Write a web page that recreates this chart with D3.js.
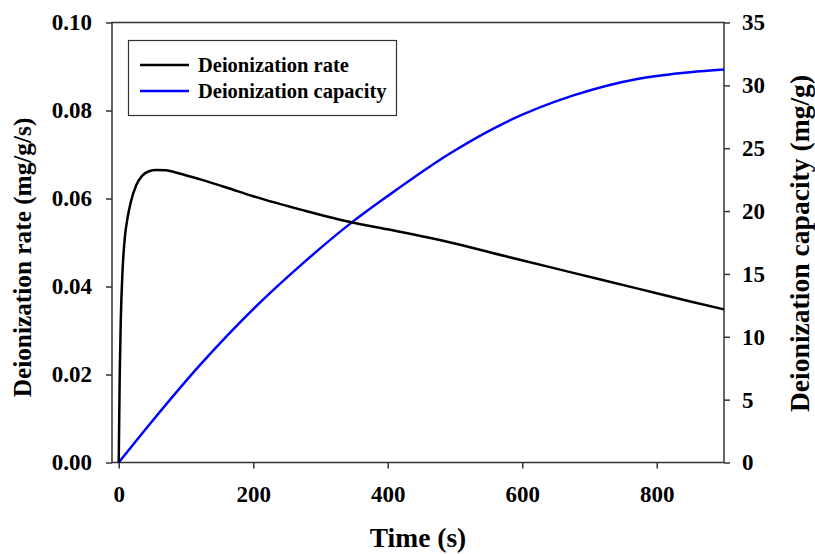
<!DOCTYPE html>
<html>
<head>
<meta charset="utf-8">
<script src="https://cdn.jsdelivr.net/npm/d3@7"></script>
<style>
  html, body { margin: 0; padding: 0; background: #fff; }
  svg { display: block; }
  text { font-family: "Liberation Serif", "Times New Roman", serif; font-weight: bold; fill: #000; }
</style>
</head>
<body>
<svg id="chart" width="815" height="554"></svg>
<script>
// ---- data ----
const rateTime = [0, 1.5, 3, 5.5, 9, 13, 18, 26, 35, 45, 56, 70, 90, 120, 160, 200, 275, 349, 400, 493, 577, 676, 775, 850, 900];
const rateValues = [0, 0.0200, 0.0320, 0.0430, 0.0510, 0.0555, 0.0592, 0.0630, 0.0652, 0.0662, 0.0665, 0.0664, 0.0657, 0.0644, 0.0625, 0.0605, 0.0573, 0.0545, 0.0530, 0.0500, 0.0468, 0.0431, 0.0394, 0.0366, 0.0348];
const capTime = [0, 50, 120, 200, 275, 349, 400, 493, 577, 676, 775, 850, 900];
const capValues = [0, 3.3, 7.7, 12.2, 15.9, 19.2, 21.2, 24.6, 27.1, 29.2, 30.55, 31.05, 31.26];
const xTicks = [0, 200, 400, 600, 800];
const yLeftTicks = [0, 0.02, 0.04, 0.06, 0.08, 0.10];
const yRightTicks = [0, 5, 10, 15, 20, 25, 30, 35];
const seriesNames = ["Deionization rate", "Deionization capacity"];
const seriesColors = ["#000000", "#0000ff"];

// ---- layout ----
const L = 112, R = 724, T = 22.5, B = 462.5;
const svg = d3.select("#chart");
const x = d3.scaleLinear().domain([-10, 900]).range([L, R]);
const yL = d3.scaleLinear().domain([0, 0.1]).range([B, T]);
const yR = d3.scaleLinear().domain([0, 35]).range([B, T]);

const axisColor = "#333";
svg.append("rect").attr("x", L).attr("y", T).attr("width", R - L).attr("height", B - T)
  .attr("fill", "none").attr("stroke", axisColor).attr("stroke-width", 1.5);

function styleAxis(g) {
  g.select(".domain").remove();
  g.selectAll(".tick line").attr("stroke", axisColor).attr("stroke-width", 1.5);
  g.selectAll(".tick text").style("font-family", '"Liberation Serif", serif').style("font-weight", "bold").style("font-size", "23px").attr("fill", "#000");
}

svg.append("g").attr("transform", `translate(0,${B})`)
  .call(d3.axisBottom(x).tickValues(xTicks).tickSize(6).tickPadding(17).tickFormat(d3.format("d")))
  .call(styleAxis);
svg.append("g").attr("transform", `translate(${L},0)`)
  .call(d3.axisLeft(yL).tickValues(yLeftTicks).tickSize(6).tickPadding(14).tickFormat(d3.format(".2f")))
  .call(styleAxis);
svg.append("g").attr("transform", `translate(${R},0)`)
  .call(d3.axisRight(yR).tickValues(yRightTicks).tickSize(6).tickPadding(12).tickFormat(d3.format("d")))
  .call(styleAxis);

// lines
const lineRate = d3.line().x((d, i) => x(rateTime[i])).y(d => yL(d)).curve(d3.curveMonotoneX);
const lineCap = d3.line().x((d, i) => x(capTime[i])).y(d => yR(d)).curve(d3.curveMonotoneX);
svg.append("path").attr("d", lineCap(capValues)).attr("fill", "none").attr("stroke", seriesColors[1]).attr("stroke-width", 2.5);
svg.append("path").attr("d", lineRate(rateValues)).attr("fill", "none").attr("stroke", seriesColors[0]).attr("stroke-width", 2.5);

// titles
svg.append("text").attr("x", (L + R) / 2).attr("y", 547).attr("text-anchor", "middle")
  .style("font-size", "27.5px").text("Time (s)");
svg.append("text").attr("transform", `translate(31,257.5) rotate(-90)`).attr("text-anchor", "middle")
  .style("font-size", "25.3px").text("Deionization rate (mg/g/s)");
svg.append("text").attr("transform", `translate(809,243.5) rotate(-90)`).attr("text-anchor", "middle")
  .style("font-size", "27.6px").text("Deionization capacity (mg/g)");

// legend
const lg = svg.append("g");
lg.append("rect").attr("x", 128.5).attr("y", 40.5).attr("width", 268).attr("height", 75)
  .attr("fill", "#fff").attr("stroke", axisColor).attr("stroke-width", 1.2);
seriesNames.forEach((n, i) => {
  const yy = 65 + i * 26;
  lg.append("line").attr("x1", 140).attr("x2", 189).attr("y1", yy).attr("y2", yy)
    .attr("stroke", seriesColors[i]).attr("stroke-width", 2.5);
  lg.append("text").attr("x", 198).attr("y", yy).attr("dy", "0.35em")
    .style("font-size", "20.5px").text(n);
});
</script>
</body>
</html>
